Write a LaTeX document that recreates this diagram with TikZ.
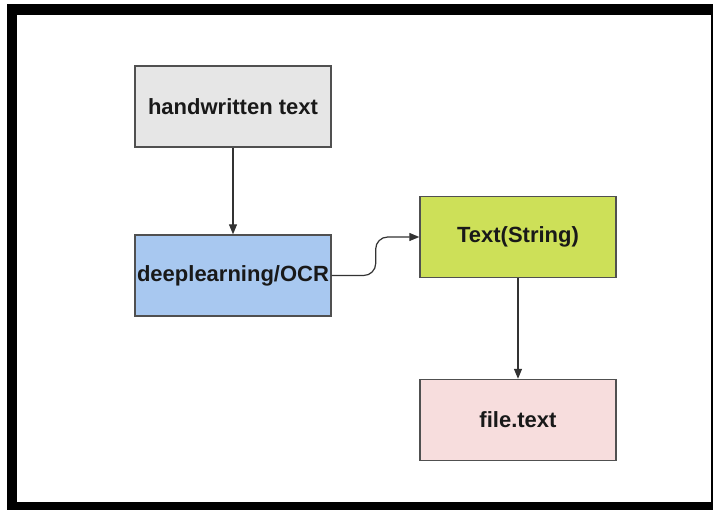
\documentclass[tikz,border=0pt]{standalone}
\usepackage{fontspec}
\setmainfont{Liberation Sans}
\usepackage{tikz}
\usetikzlibrary{arrows.meta,positioning,calc}

\definecolor{boxgray}{RGB}{230,230,230}
\definecolor{boxblue}{RGB}{168,200,240}
\definecolor{boxgreen}{RGB}{205,224,88}
\definecolor{boxpink}{RGB}{247,221,221}
\definecolor{edge}{RGB}{80,80,80}

\begin{document}
\begin{tikzpicture}[x=1pt,y=-1pt,
  box/.style={draw=edge,line width=1.4pt,minimum width=196pt,minimum height=81pt,
    inner sep=0pt,font=\fontsize{22}{25}\selectfont\bfseries,text=black!90},
  conn/.style={draw=black!80,line width=1.2pt,-{Triangle[length=10pt,width=8pt]}}]
  \useasboundingbox (0,0) rectangle (713,510);
  \fill[white] (0,0) rectangle (713,510);
  \fill[black] (7,4) rectangle (713,510);
  \fill[white] (17,15) rectangle (711,502);
  \node[box,fill=boxgray] (hw) at (233,106.5) {handwritten text};
  \node[box,fill=boxblue] (ocr) at (233,275.5) {deeplearning/OCR};
  \node[box,fill=boxgreen] (txt) at (518,237) {Text(String)};
  \node[box,fill=boxpink] (file) at (518,420) {file.text};
  \draw[conn] (hw) -- (ocr);
  \draw[conn,rounded corners=12pt] (ocr.east) -- ++(44,0) |- (txt.west);
  \draw[conn] (txt) -- (file);
\end{tikzpicture}
\end{document}
